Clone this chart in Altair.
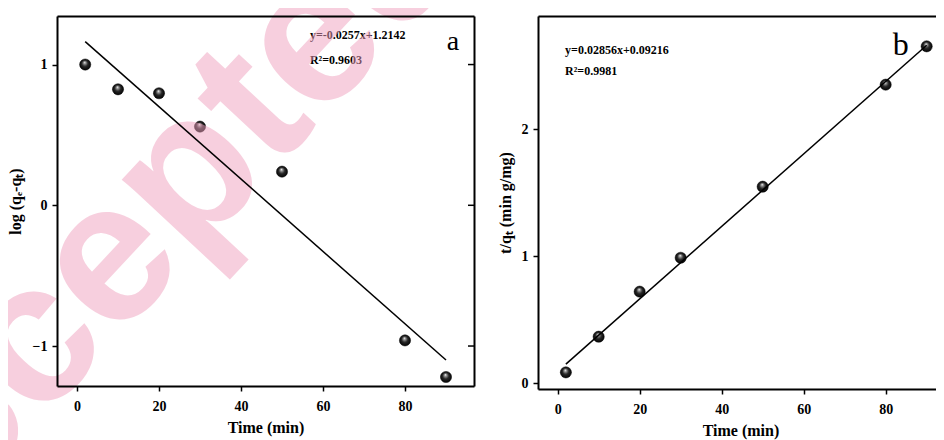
import altair as alt
import pandas as pd

# ---- data ----
time_min = [2, 10, 20, 30, 50, 80, 90]
log_qe_qt = [1.00, 0.824, 0.796, 0.559, 0.239, -0.96, -1.22]
t_over_qt = [0.084, 0.365, 0.72, 0.987, 1.547, 2.351, 2.653]

fit_x = [2, 90]
fit_a_y = [1.163, -1.099]
fit_b_y = [0.149, 2.662]

eq_a_text = ["y=-0.0257x+1.2142", "R²=0.9603"]
eq_a_x = [56.8, 56.8]
eq_a_y = [1.21, 1.033]
eq_b_text = ["y=0.02856x+0.09216", "R²=0.9981"]
eq_b_x = [1.8, 1.8]
eq_b_y = [2.624, 2.459]

panel_a_label = ["a"]
panel_a_label_x = [91.7]
panel_a_label_y = [1.16]
panel_b_label = ["b"]
panel_b_label_x = [83.7]
panel_b_label_y = [2.664]

watermark_text = ["Accepted"]
watermark_x = [12.2]
watermark_y = [-0.254]

x_ticks = [0, 20, 40, 60, 80]
ya_ticks = [-1, 0, 1]
yb_ticks = [0, 1, 2]

SERIF = "Liberation Serif"

xa_scale = alt.Scale(domain=[-4.88, 96.83], zero=False, nice=False)
ya_scale = alt.Scale(domain=[-1.284, 1.345], zero=False, nice=False)
xb_scale = alt.Scale(domain=[-4.8, 93.98], zero=False, nice=False)
yb_scale = alt.Scale(domain=[-0.047, 2.892], zero=False, nice=False)

sphere = alt.RadialGradient(
    gradient="radial",
    stops=[
        alt.GradientStop(color="#ffffff", offset=0),
        alt.GradientStop(color="#9a9a9a", offset=0.18),
        alt.GradientStop(color="#262626", offset=0.5),
        alt.GradientStop(color="#000000", offset=1),
    ],
    x1=0.45, y1=0.3, r1=0, x2=0.5, y2=0.5, r2=0.55,
)


def axis_main(orient, values, title, title_pad, label_pad=5):
    return alt.Axis(
        orient=orient, values=values, title=title, grid=False,
        domain=True, domainColor="black", domainWidth=2,
        ticks=True, tickSize=5, tickWidth=1.5, tickColor="black",
        labelFont=SERIF, labelFontWeight="bold", labelFontSize=14, labelColor="black",
        labelPadding=label_pad,
        titleFont=SERIF, titleFontWeight="bold", titleFontSize=16, titleColor="black",
        titlePadding=title_pad, zindex=1,
    )


def axis_frame(orient):
    return alt.Axis(
        orient=orient, title="", grid=False, labels=False, ticks=False,
        domain=True, domainColor="black", domainWidth=2, zindex=1,
    )


def panel(xs, ys, fit_y, xscale, yscale, yticks, ytitle, ytitle_pad,
          eq_text, eq_x, eq_y, lab, lab_x, lab_y, lab_size, w, h, extra=None):
    pts = alt.Chart(pd.DataFrame({"x": xs, "y": ys})).mark_point(
        shape="circle", filled=True, fill=sphere, size=125, opacity=1,
        stroke="#000000", strokeWidth=0.5,
    ).encode(
        x=alt.X("x:Q", scale=xscale, axis=axis_main("bottom", x_ticks, "Time (min)", 6, 8)),
        y=alt.Y("y:Q", scale=yscale, axis=axis_main("left", yticks, ytitle, ytitle_pad, 5)),
    )
    line = alt.Chart(pd.DataFrame({"x": fit_x, "y": fit_y})).mark_line(
        color="black", strokeWidth=1.5
    ).encode(
        x=alt.X("x:Q", scale=xscale, axis=axis_frame("top")),
        y=alt.Y("y:Q", scale=yscale, axis=axis_frame("right")),
    )
    eq = alt.Chart(pd.DataFrame({"x": eq_x, "y": eq_y, "t": eq_text})).mark_text(
        font=SERIF, fontWeight="bold", fontSize=12, align="left", baseline="middle",
        color="black",
    ).encode(
        x=alt.X("x:Q", scale=xscale, axis=None),
        y=alt.Y("y:Q", scale=yscale, axis=None),
        text="t:N",
    )
    letter = alt.Chart(pd.DataFrame({"x": lab_x, "y": lab_y, "t": lab})).mark_text(
        font=SERIF, fontSize=lab_size, align="center", baseline="middle", color="black",
    ).encode(
        x=alt.X("x:Q", scale=xscale, axis=None),
        y=alt.Y("y:Q", scale=yscale, axis=None),
        text="t:N",
    )
    layers = [pts, eq, letter]
    if extra is not None:
        layers += extra
    layers.append(line)
    return alt.layer(*layers).resolve_axis(x="independent", y="independent").properties(
        width=w, height=h
    )


watermark = alt.Chart(
    pd.DataFrame({"x": watermark_x, "y": watermark_y, "t": watermark_text})
).mark_text(
    font="Liberation Sans", fontWeight="bold", fontSize=200, angle=313,
    align="center", baseline="middle", color="#f0a0be", opacity=0.5,
).encode(
    x=alt.X("x:Q", scale=xa_scale, axis=None),
    y=alt.Y("y:Q", scale=ya_scale, axis=None),
    text="t:N",
)

right_ticks = alt.Chart(pd.DataFrame({"y": ya_ticks})).mark_rule(
    color="black", strokeWidth=1.5
).encode(
    y=alt.Y("y:Q", scale=ya_scale, axis=None),
    x=alt.value(411), x2=alt.value(417),
)

chart_a = panel(time_min, log_qe_qt, fit_a_y, xa_scale, ya_scale, ya_ticks,
                "log (qₑ-qₜ)", 9, eq_a_text, eq_a_x, eq_a_y,
                panel_a_label, panel_a_label_x, panel_a_label_y, 28, 417, 370,
                extra=[right_ticks, watermark])

chart_b = panel(time_min, t_over_qt, fit_b_y, xb_scale, yb_scale, yb_ticks,
                "t/qₜ (min g/mg)", 8, eq_b_text, eq_b_x, eq_b_y,
                panel_b_label, panel_b_label_x, panel_b_label_y, 32, 405, 373)

chart = alt.hconcat(chart_a, chart_b, spacing=64, bounds="flush").properties(
    autosize=alt.AutoSizeParams(type="none"),
    padding={"left": 49, "top": 8, "right": 879, "bottom": 424},
).configure_view(stroke="transparent").configure(background="white")

chart.save("out.html", embed_options={"renderer": "svg", "actions": False})
